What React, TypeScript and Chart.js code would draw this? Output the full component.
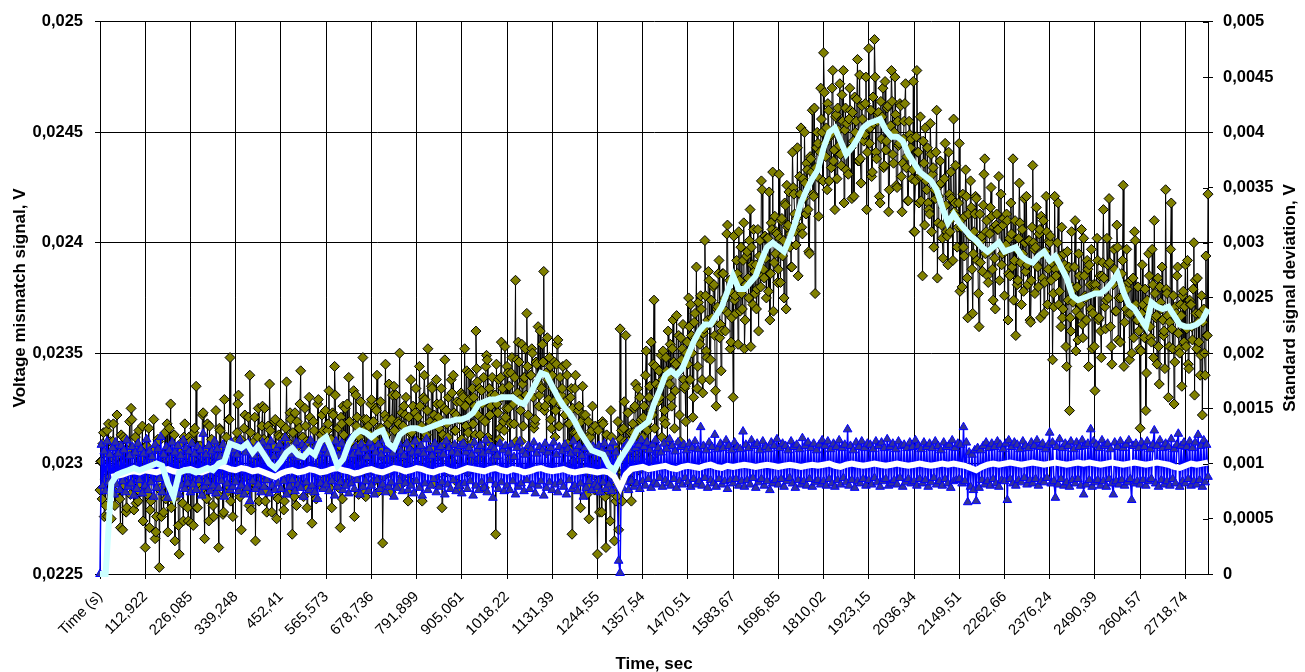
import React, { useEffect, useRef } from 'react';
import { Chart, registerables } from 'chart.js';

Chart.register(...registerables);

const FONT = "'Liberation Sans', Arial, Helvetica, sans-serif";

// x-axis category labels (one label every POINTS_PER_LABEL samples)
const timeTickLabels = [
  'Time (s)', '112,922', '226,085', '339,248', '452,41', '565,573', '678,736',
  '791,899', '905,061', '1018,22', '1131,39', '1244,55', '1357,54', '1470,51',
  '1583,67', '1696,85', '1810,02', '1923,15', '2036,34', '2149,51', '2262,66',
  '2376,24', '2490,39', '2604,57', '2718,74',
];
const POINTS_PER_LABEL = 64;

const leftTicks = [0.0225, 0.023, 0.0235, 0.024, 0.0245, 0.025];
const rightTicks = [0, 0.0005, 0.001, 0.0015, 0.002, 0.0025, 0.003, 0.0035, 0.004, 0.0045, 0.005];

const leftTitle = 'Voltage mismatch signal, V';
const rightTitle = 'Standard signal deviation, V';
const xTitle = 'Time, sec';

// All series values are in units of 10 µV (1e-5 V)
const UNIT = 1e-5;

// Voltage mismatch signal (left axis), one value per sample
const voltageMismatch = [
  2288,2301, 2301,2284, 2309,2314, 2276,2293, 2281,2305, 2315,2276, 2318,2298, 2294,2310,
  2275,2288, 2310,2318, 2302,2281, 2287,2303, 2322,2295, 2299,2308, 2284,2271, 2313,2300,
  2270,2312, 2292,2290, 2311,2278, 2280,2306, 2297,2297, 2319,2286, 2325,2320, 2290,2292,
  2279,2304, 2312,2282, 2306,2299, 2283,2315, 2291,2287, 2304,2302, 2317,2274, 2296,2307,
  2262,2308, 2308,2286, 2301,2316, 2271,2279, 2283,2301, 2294,2293, 2320,2306, 2266,2269,
  2276,2298, 2311,2310, 2253,2288, 2289,2276, 2298,2304, 2278,2295, 2314,2284, 2302,2318,
  2269,2290, 2316,2302, 2327,2280, 2284,2297, 2288,2313, 2265,2285, 2305,2300, 2299,2272,
  2259,2305, 2309,2299, 2296,2282, 2274,2312, 2318,2291, 2293,2303, 2280,2274, 2312,2296,
  2310,2273, 2289,2302, 2272,2314, 2316,2292, 2335,2280, 2280,2308, 2290,2299, 2308,2288,
  2303,2322, 2323,2294, 2266,2306, 2292,2284, 2318,2301, 2274,2317, 2295,2289, 2311,2304,
  2281,2276, 2300,2309, 2324,2303, 2286,2286, 2262,2316, 2315,2295, 2306,2307, 2277,2278,
  2329,2300, 2296,2312, 2287,2290, 2320,2320, 2348,2283, 2305,2305, 2276,2297, 2293,2310,
  2299,2293, 2314,2327, 2331,2299, 2285,2311, 2270,2289, 2307,2306, 2316,2322, 2296,2294,
  2288,2309, 2321,2281, 2340,2314, 2279,2308, 2302,2291, 2310,2321, 2265,2300, 2290,2312,
  2325,2283, 2304,2305, 2293,2317, 2326,2295, 2311,2325, 2283,2288, 2278,2310, 2317,2302,
  2336,2315, 2294,2278, 2297,2307, 2308,2319, 2320,2297, 2275,2285, 2284,2313, 2312,2304,
  2318,2296, 2296,2311, 2279,2283, 2312,2316, 2337,2310, 2287,2293, 2300,2323, 2320,2302,
  2268,2314, 2303,2285, 2323,2307, 2281,2319, 2292,2297, 2316,2327, 2342,2290, 2298,2312,
  2285,2304, 2325,2317, 2310,2280, 2289,2309, 2330,2321, 2307,2299, 2273,2287, 2319,2315,
  2305,2306, 2284,2295, 2327,2329, 2300,2301, 2290,2313, 2322,2291, 2315,2308, 2293,2324,
  2296,2306, 2315,2318, 2333,2289, 2298,2311, 2280,2323, 2322,2301, 2344,2331, 2306,2294,
  2304,2316, 2289,2308, 2271,2321, 2318,2284, 2326,2313, 2300,2325, 2291,2303, 2327,2291,
  2339,2319, 2294,2310, 2310,2299, 2312,2333, 2276,2305, 2331,2317, 2321,2295, 2286,2312,
  2300,2328, 2309,2300, 2348,2315, 2320,2287, 2285,2320, 2303,2314, 2317,2297, 2296,2327,
  2329,2297, 2311,2319, 2292,2311, 2325,2324, 2340,2287, 2298,2316, 2305,2328, 2316,2306,
  2264,2294, 2302,2322, 2345,2313, 2320,2302, 2318,2336, 2296,2308, 2287,2320, 2331,2298,
  2335,2315, 2308,2331, 2300,2303, 2319,2318, 2350,2290, 2303,2323, 2294,2317, 2326,2300,
  2322,2330, 2299,2309, 2283,2321, 2314,2292, 2338,2314, 2306,2326, 2309,2304, 2323,2334,
  2300,2310, 2321,2298, 2344,2326, 2305,2317, 2283,2306, 2330,2340, 2329,2312, 2313,2324,
  2352,2302, 2299,2319, 2307,2335, 2334,2307, 2291,2322, 2318,2294, 2338,2327, 2303,2321,
  2316,2304, 2327,2334, 2280,2313, 2309,2325, 2347,2296, 2324,2318, 2312,2330, 2301,2308,
  2296,2338, 2332,2301, 2340,2323, 2315,2315, 2322,2328, 2306,2291, 2289,2320, 2328,2332,
  2311,2331, 2330,2309, 2352,2326, 2317,2342, 2296,2314, 2341,2329, 2340,2301, 2309,2334,
  2318,2330, 2326,2313, 2360,2343, 2337,2322, 2302,2334, 2313,2305, 2333,2327, 2320,2339,
  2289,2319, 2344,2349, 2347,2312, 2310,2334, 2322,2326, 2331,2339, 2306,2302, 2298,2331,
  2268,2345, 2327,2323, 2338,2311, 2316,2339, 2355,2330, 2334,2319, 2315,2353, 2321,2325,
  2344,2341, 2325,2335, 2302,2318, 2341,2348, 2330,2327, 2318,2339, 2383,2310, 2347,2332,
  2355,2346, 2329,2324, 2310,2354, 2336,2317, 2339,2339, 2352,2331, 2368,2344, 2322,2307,
  2297,2340, 2340,2352, 2350,2330, 2316,2318, 2320,2346, 2345,2337, 2362,2326, 2331,2360,
  2335,2334, 2354,2346, 2387,2324, 2326,2341, 2305,2357, 2338,2329, 2348,2344, 2320,2316,
  2340,2334, 2328,2346, 2312,2324, 2345,2354, 2356,2317, 2317,2339, 2327,2331, 2334,2344,
  2298,2299, 2322,2328, 2345,2340, 2309,2318, 2318,2306, 2330,2334, 2268,2325, 2301,2314,
  2334,2340, 2314,2312, 2305,2324, 2326,2302, 2280,2319, 2298,2335, 2322,2307, 2307,2322,
  2296,2286, 2290,2319, 2275,2313, 2312,2296, 2315,2326, 2295,2305, 2288,2317, 2303,2288,
  2259,2315, 2292,2278, 2300,2307, 2278,2319, 2318,2297, 2305,2285, 2262,2313, 2288,2304,
  2290,2290, 2274,2324, 2312,2296, 2296,2308, 2265,2286, 2283,2303, 2285,2319, 2270,2291,
  2361,2311, 2315,2283, 2296,2316, 2328,2310, 2358,2293, 2305,2323, 2310,2302, 2292,2314,
  2283,2292, 2318,2314, 2325,2326, 2336,2304, 2302,2334, 2312,2297, 2330,2319, 2320,2311,
  2312,2321, 2326,2307, 2340,2351, 2318,2315, 2298,2330, 2335,2302, 2355,2324, 2322,2345,
  2374,2316, 2344,2336, 2305,2299, 2328,2342, 2330,2335, 2349,2312, 2338,2351, 2320,2324,
  2318,2348, 2342,2310, 2360,2339, 2336,2354, 2330,2326, 2352,2365, 2346,2316, 2333,2345,
  2367,2341, 2341,2358, 2322,2310, 2357,2347, 2352,2363, 2338,2334, 2335,2319, 2350,2355,
  2345,2375, 2362,2338, 2372,2358, 2350,2321, 2330,2364, 2368,2357, 2389,2334, 2344,2373,
  2356,2354, 2376,2370, 2338,2332, 2359,2361, 2401,2376, 2351,2348, 2365,2387, 2383,2338,
  2347,2374, 2366,2364, 2380,2381, 2358,2333, 2326,2370, 2371,2386, 2392,2357, 2363,2342,
  2360,2386, 2386,2374, 2375,2360, 2369,2404, 2408,2368, 2378,2383, 2352,2355, 2366,2377,
  2330,2403, 2374,2376, 2368,2392, 2386,2354, 2405,2383, 2369,2398, 2377,2370, 2392,2409,
  2352,2365, 2381,2394, 2396,2384, 2375,2401, 2415,2353, 2398,2390, 2372,2406, 2387,2377,
  2390,2370, 2379,2406, 2360,2394, 2401,2380, 2428,2424, 2385,2388, 2384,2403, 2393,2375,
  2402,2402, 2378,2423, 2365,2386, 2409,2406, 2432,2369, 2391,2412, 2395,2405, 2404,2382,
  2388,2431, 2402,2382, 2410,2411, 2394,2401, 2375,2418, 2417,2370, 2426,2407, 2408,2423,
  2398,2404, 2389,2389, 2441,2425, 2422,2413, 2405,2399, 2411,2443, 2385,2407, 2430,2422,
  2452,2407, 2404,2429, 2420,2450, 2427,2413, 2436,2433, 2415,2396, 2395,2439, 2438,2432,
  2460,2422, 2421,2461, 2377,2434, 2443,2450, 2445,2412, 2429,2441, 2470,2456, 2450,2428,
  2486,2468, 2445,2439, 2452,2424, 2463,2460, 2428,2448, 2449,2434, 2470,2478, 2437,2442,
  2415,2457, 2458,2429, 2461,2451, 2444,2472, 2440,2435, 2467,2455, 2478,2418, 2451,2461,
  2433,2454, 2442,2431, 2456,2470, 2460,2443, 2420,2459, 2446,2421, 2466,2450, 2455,2465,
  2483,2437, 2437,2476, 2438,2427, 2462,2456, 2450,2446, 2449,2463, 2475,2415, 2441,2452,
  2488,2445, 2452,2460, 2430,2432, 2466,2454, 2492,2475, 2441,2438, 2455,2458, 2459,2421,
  2418,2464, 2447,2457, 2470,2434, 2435,2473, 2442,2446, 2461,2462, 2414,2424, 2452,2453,
  2478,2464, 2440,2436, 2450,2475, 2458,2426, 2425,2455, 2444,2445, 2463,2462, 2430,2414,
  2436,2447, 2455,2463, 2472,2434, 2439,2419, 2419,2455, 2449,2443, 2447,2429, 2433,2473,
  2405,2405, 2428,2448, 2478,2441, 2441,2418, 2430,2457, 2419,2430, 2385,2446, 2436,2408,
  2452,2428, 2424,2443, 2418,2415, 2413,2454, 2440,2405, 2431,2434, 2398,2424, 2420,2441,
  2460,2384, 2409,2421, 2426,2437, 2427,2408, 2402,2393, 2416,2429, 2445,2417, 2405,2403,
  2390,2441, 2422,2405, 2432,2420, 2411,2392, 2456,2414, 2418,2435, 2412,2398, 2407,2418,
  2445,2378, 2410,2407, 2380,2422, 2398,2394, 2412,2433, 2421,2384, 2366,2413, 2404,2403,
  2428,2416, 2388,2368, 2395,2405, 2413,2421, 2420,2392, 2400,2377, 2362,2413, 2391,2401,
  2403,2387, 2417,2431, 2438,2395, 2405,2410, 2385,2382, 2396,2404, 2416,2425, 2412,2388,
  2374,2407, 2393,2370, 2408,2413, 2406,2406, 2430,2383, 2399,2422, 2390,2395, 2408,2411,
  2376,2396, 2399,2413, 2410,2365, 2386,2402, 2385,2418, 2404,2389, 2438,2374, 2392,2410,
  2358,2397, 2381,2383, 2402,2427, 2409,2391, 2372,2406, 2395,2378, 2420,2400, 2387,2421,
  2390,2381, 2401,2401, 2365,2364, 2383,2407, 2435,2400, 2397,2377, 2398,2416, 2390,2389,
  2380,2404, 2406,2366, 2412,2395, 2384,2410, 2368,2382, 2396,2421, 2405,2372, 2388,2401,
  2400,2403, 2383,2391, 2347,2377, 2371,2421, 2388,2385, 2392,2400, 2418,2372, 2378,2394,
  2362,2407, 2366,2370, 2395,2390, 2387,2353, 2344,2396, 2374,2389, 2324,2366, 2360,2405,
  2380,2373, 2379,2389, 2410,2351, 2369,2380, 2356,2395, 2385,2367, 2372,2406, 2363,2357,
  2402,2385, 2376,2375, 2365,2392, 2388,2344, 2390,2381, 2370,2397, 2352,2368, 2381,2353,
  2333,2381, 2378,2402, 2392,2365, 2366,2385, 2360,2348, 2385,2391, 2415,2384, 2371,2361,
  2374,2402, 2390,2375, 2420,2391, 2362,2353, 2345,2382, 2381,2397, 2388,2369, 2369,2408,
  2398,2356, 2375,2385, 2355,2375, 2386,2392, 2426,2344, 2364,2381, 2370,2397, 2379,2368,
  2382,2347, 2368,2383, 2350,2371, 2384,2357, 2405,2401, 2372,2365, 2365,2380, 2360,2352,
  2316,2351, 2368,2390, 2372,2363, 2357,2379, 2324,2341, 2374,2370, 2395,2385, 2362,2357,
  2355,2397, 2381,2348, 2410,2377, 2366,2367, 2345,2384, 2353,2336, 2380,2373, 2370,2389,
  2365,2358, 2360,2343, 2424,2379, 2377,2367, 2330,2353, 2364,2397, 2418,2361, 2352,2376,
  2327,2346, 2371,2368, 2385,2389, 2359,2352, 2350,2372, 2367,2335, 2376,2378, 2355,2371,
  2390,2353, 2361,2392, 2345,2343, 2374,2372, 2372,2362, 2356,2379, 2400,2331, 2383,2368,
  2352,2384, 2364,2355, 2368,2340, 2349,2376, 2322,2364, 2370,2350, 2340,2394, 2358,2358,
  2422,
];

// Standard signal deviation (right axis), one value every STD_STEP samples
const STD_STEP = 2;
const signalStdDev = [
  0, 117, 80, 111, 75, 120, 83, 108, 78, 114, 72, 119, 81, 109, 76, 116, 84, 112, 74, 121, 79, 107, 82, 115, 71, 110, 77, 118, 85, 113, 73, 109,
  80, 122, 76, 111, 83, 106, 70, 117, 78, 113, 86, 124, 74, 108, 81, 115, 69, 112, 79, 119, 75, 110, 84, 116, 72, 107, 80, 121, 77, 114, 82, 111,
  74, 118, 81, 109, 76, 115, 85, 112, 71, 127, 79, 108, 83, 116, 75, 111, 80, 120, 73, 113, 78, 106, 84, 117, 70, 110, 82, 114, 76, 119, 79, 112,
  83, 108, 75, 121, 80, 114, 72, 110, 78, 118, 66, 112, 84, 107, 77, 116, 81, 111, 74, 119, 79, 109, 85, 115, 73, 120, 80, 106, 76, 113, 82, 117,
  77, 110, 84, 123, 72, 115, 79, 108, 85, 112, 75, 119, 81, 105, 78, 117, 70, 114, 83, 109, 76, 121, 80, 111, 74, 116, 68, 110, 82, 118, 77, 113,
  81, 109, 75, 116, 84, 112, 71, 120, 79, 107, 83, 118, 76, 111, 80, 114, 73, 122, 82, 108, 77, 115, 85, 110, 72, 117, 79, 113, 84, 106, 75, 119,
  80, 114, 72, 110, 85, 117, 77, 108, 81, 121, 74, 112, 79, 116, 83, 109, 70, 115, 78, 119, 84, 111, 75, 107, 82, 118, 76, 113, 80, 110, 73, 120,
  84, 111, 78, 116, 71, 109, 82, 122, 76, 113, 80, 107, 86, 118, 74, 112, 79, 115, 83, 108, 72, 120, 81, 114, 77, 110, 85, 117, 75, 109, 80, 116,
  73, 118, 82, 110, 77, 114, 84, 108, 71, 119, 80, 112, 76, 116, 83, 109, 78, 121, 74, 111, 85, 115, 69, 113, 81, 107, 77, 118, 83, 112, 75, 116,
  80, 110, 76, 117, 84, 106, 72, 114, 79, 120, 82, 111, 75, 108, 85, 116, 77, 113, 81, 119, 73, 109, 80, 115, 84, 112, 71, 118, 78, 110, 83, 114,
  76, 119, 81, 108, 74, 115, 83, 111, 79, 117, 72, 113, 85, 109, 77, 120, 80, 112, 75, 116, 82, 107, 70, 114, 78, 118, 84, 110, 76, 115, 81, 111,
  79, 116, 74, 112, 83, 118, 77, 109, 81, 114, 75, 119, 85, 110, 80, 12, 1, 104, 78, 115, 83, 118, 76, 112, 84, 120, 79, 114, 82, 117, 77, 121,
  84, 115, 80, 119, 86, 112, 78, 117, 83, 121, 81, 114, 87, 110, 79, 118, 85, 113, 82, 122, 80, 116, 86, 111, 78, 119, 84, 115, 81, 117, 87, 112,
  83, 118, 79, 114, 86, 120, 81, 113, 84, 133, 80, 116, 87, 112, 78, 119, 85, 115, 82, 126, 79, 113, 86, 118, 81, 114, 84, 121, 77, 116, 85, 112,
  82, 119, 86, 115, 80, 113, 84, 129, 79, 117, 85, 114, 81, 121, 87, 116, 78, 118, 83, 112, 86, 120, 80, 115, 84, 113, 76, 119, 82, 116, 85, 122,
  81, 114, 86, 118, 79, 116, 84, 112, 87, 120, 82, 115, 78, 117, 85, 113, 81, 123, 84, 116, 80, 119, 86, 114, 79, 118, 83, 112, 85, 117, 81, 121,
  84, 116, 80, 120, 86, 113, 82, 118, 79, 115, 85, 121, 81, 114, 87, 117, 83, 131, 80, 116, 85, 112, 78, 119, 84, 115, 82, 120, 86, 114, 80, 118,
  85, 117, 81, 113, 87, 120, 83, 116, 79, 119, 84, 114, 86, 122, 80, 115, 82, 118, 85, 113, 81, 120, 87, 116, 79, 117, 83, 114, 86, 119, 82, 115,
  84, 121, 80, 116, 86, 113, 82, 119, 85, 115, 79, 118, 83, 114, 87, 120, 81, 116, 84, 112, 80, 119, 86, 115, 82, 117, 78, 121, 84, 114, 85, 118,
  86, 117, 82, 133, 84, 119, 65, 110, 79, 108, 76, 112, 66, 114, 78, 112, 85, 116, 81, 119, 84, 114, 80, 118, 86, 115, 82, 120, 79, 117, 85, 113,
  84, 118, 67, 121, 86, 115, 82, 119, 80, 117, 85, 113, 83, 120, 87, 116, 81, 114, 85, 119, 82, 116, 86, 121, 80, 115, 84, 118, 83, 113, 87, 117,
  128, 82, 119, 84, 69, 115, 81, 122, 86, 114, 80, 118, 83, 116, 79, 120, 85, 113, 82, 119, 86, 115, 80, 121, 72, 116, 81, 118, 85, 131, 79, 120,
  83, 117, 85, 114, 80, 121, 84, 116, 79, 118, 86, 113, 82, 72, 119, 84, 115, 81, 120, 85, 114, 80, 117, 83, 121, 86, 67, 116, 82, 118, 84, 114,
  81, 119, 85, 115, 80, 120, 84, 113, 86, 117, 130, 82, 116, 79, 121, 85, 114, 81, 118, 84, 115, 80, 122, 86, 113, 82, 117, 127, 79, 116, 84, 119,
  82, 115, 86, 120, 80, 114, 84, 119, 81, 126, 85, 116, 79, 121, 83, 117, 88,
];

// Moving averages, one value every MA_STEP samples
const MA_STEP = 8;

const voltageMovingAvg = [
  2250, 2250, 2291, 2295, 2296, 2297, 2298, 2297, 2298, 2299, 2300, 2299, 2291, 2285, 2296, 2297,
  2297, 2296, 2297, 2298, 2297, 2300, 2301, 2309, 2308, 2307, 2309, 2305, 2308, 2304, 2300, 2298,
  2301, 2305, 2307, 2304, 2303, 2306, 2304, 2310, 2312, 2306, 2299, 2302, 2309, 2313, 2315, 2314,
  2312, 2314, 2315, 2309, 2307, 2313, 2315, 2316, 2316, 2315, 2316, 2317, 2318, 2319, 2319, 2320,
  2320, 2321, 2323, 2327, 2328, 2329, 2329, 2330, 2330, 2330, 2328, 2327, 2331, 2336, 2341, 2340,
  2335, 2330, 2326, 2323, 2319, 2314, 2310, 2306, 2305, 2304, 2299, 2297, 2302, 2306, 2310, 2315,
  2317, 2319, 2327, 2333, 2340, 2342, 2340, 2343, 2349, 2355, 2360, 2363, 2363, 2367, 2371, 2378,
  2385, 2379, 2379, 2382, 2385, 2392, 2398, 2400, 2398, 2396, 2402, 2409, 2418, 2424, 2429, 2433,
  2443, 2450, 2452, 2446, 2440, 2443, 2447, 2452, 2454, 2455, 2456, 2451, 2448, 2448, 2446, 2440,
  2436, 2432, 2430, 2428, 2424, 2416, 2409, 2413, 2409, 2406, 2403, 2401, 2398, 2396, 2398, 2400,
  2396, 2397, 2398, 2394, 2392, 2391, 2394, 2396, 2392, 2394, 2389, 2384, 2376, 2374, 2375, 2376,
  2377, 2377, 2379, 2382, 2386, 2378, 2372, 2370, 2366, 2362, 2373, 2371, 2370, 2371, 2367, 2363,
  2362, 2362, 2363, 2365, 2370,
];

const stdDevMovingAvg = [
  null, null, 88, 89, 90, 92, 93, 92, 94, 93, 92, 94, 95, 93, 92, 94,
  95, 93, 92, 94, 96, 98, 97, 95, 94, 96, 95, 93, 94, 92, 90, 88,
  91, 93, 94, 92, 93, 95, 94, 92, 93, 95, 96, 94, 93, 91, 92, 94,
  95, 93, 92, 94, 96, 95, 93, 94, 96, 95, 93, 92, 94, 95, 93, 92,
  94, 96, 95, 94, 93, 95, 96, 94, 93, 95, 94, 92, 93, 95, 96, 94,
  93, 94, 95, 93, 92, 93, 94, 93, 92, 93, 92, 88, 78, 90, 95, 96,
  97, 95, 96, 97, 98, 96, 95, 97, 98, 97, 96, 98, 99, 97, 96, 98,
  97, 98, 99, 98, 97, 98, 99, 98, 97, 98, 99, 98, 97, 98, 99, 98,
  99, 100, 98, 97, 99, 100, 99, 98, 99, 100, 99, 98, 99, 100, 99, 98,
  99, 100, 99, 98, 99, 100, 99, 100, 99, 98, 96, 94, 97, 99, 100, 99,
  100, 101, 100, 99, 100, 101, 100, 99, 100, 101, 100, 99, 100, 101, 100, 101,
  100, 99, 100, 101, 100, 99, 100, 101, 100, 99, 100, 101, 100, 99, 97, 96,
  98, 100, 99, 100, 101,
];

const fmt = (v: number) => String(parseFloat(v.toFixed(5))).replace('.', ',');

const categories = voltageMismatch.map((_, i) => String(i));
const toVolts = (arr: number[]) => arr.map((v) => v * UNIT);
const toStepped = (arr: (number | null)[], step: number) =>
  arr.map((v, k) => ({ x: String(k * step), y: v === null ? null : v * UNIT }));

const W = 1305;
const H = 672;
const PLOT_LEFT = 100;
const PLOT_RIGHT = 1208;
const PLOT_TOP = 18;
const PLOT_BOTTOM = 574;

const extrasPlugin = {
  id: 'extras',
  afterDraw(chart: any) {
    const { ctx, chartArea, scales } = chart;
    const y1 = scales.y1;
    ctx.save();
    ctx.strokeStyle = '#000';
    ctx.lineWidth = 1;
    y1.ticks.forEach((t: any) => {
      const py = Math.round(y1.getPixelForValue(t.value)) + 0.5;
      ctx.beginPath();
      ctx.moveTo(chartArea.right - 5, py);
      ctx.lineTo(chartArea.right, py);
      ctx.stroke();
    });
    ctx.translate(1290, (chartArea.top + chartArea.bottom) / 2);
    ctx.rotate(-Math.PI / 2);
    ctx.font = `bold 17px ${FONT}`;
    ctx.fillStyle = '#000';
    ctx.textAlign = 'center';
    ctx.textBaseline = 'middle';
    ctx.fillText(rightTitle, 0, 0);
    ctx.restore();
  },
};

export default function App() {
  const canvasRef = useRef<HTMLCanvasElement | null>(null);

  useEffect(() => {
    if (!canvasRef.current) return;
    const chart = new Chart(canvasRef.current, {
      type: 'line',
      data: {
        labels: categories,
        datasets: [
          {
            label: 'Voltage moving average',
            data: toStepped(voltageMovingAvg, MA_STEP) as any,
            yAxisID: 'y',
            borderColor: '#CCFFFF',
            borderWidth: 6,
            pointRadius: 0,
            tension: 0,
            order: 0,
            clip: false as any,
          },
          {
            label: 'Std deviation moving average',
            data: toStepped(stdDevMovingAvg, MA_STEP) as any,
            yAxisID: 'y1',
            borderColor: '#FFFFFF',
            borderWidth: 6,
            pointRadius: 0,
            tension: 0,
            order: 1,
            clip: false as any,
          },
          {
            label: 'Standard signal deviation',
            data: toStepped(signalStdDev, STD_STEP) as any,
            yAxisID: 'y1',
            borderColor: '#0000FF',
            borderWidth: 1.5,
            pointStyle: 'triangle',
            pointRadius: 5,
            pointBackgroundColor: '#333399',
            pointBorderColor: '#0000FF',
            pointBorderWidth: 1,
            tension: 0,
            order: 2,
            clip: false as any,
          },
          {
            label: 'Voltage mismatch signal',
            data: toVolts(voltageMismatch),
            yAxisID: 'y',
            borderColor: '#000000',
            borderWidth: 1,
            pointStyle: 'rectRot',
            pointRadius: 5,
            pointBackgroundColor: '#808000',
            pointBorderColor: '#000000',
            pointBorderWidth: 1,
            tension: 0,
            order: 3,
            clip: false as any,
          },
        ],
      },
      options: {
        animation: false,
        responsive: true,
        maintainAspectRatio: false,
        devicePixelRatio: 1,
        events: [],
        layout: { padding: { top: PLOT_TOP, left: 0, right: 0, bottom: 0 } },
        plugins: {
          legend: { display: false },
          tooltip: { enabled: false },
          title: { display: false },
        },
        scales: {
          x: {
            type: 'category',
            offset: false,
            afterBuildTicks: (scale: any) => {
              scale.ticks = scale.ticks.filter((t: any) => t.value % POINTS_PER_LABEL === 0);
            },
            afterFit: (scale: any) => {
              scale.height = H - PLOT_BOTTOM;
            },
            grid: { color: '#000', lineWidth: 1, tickLength: 5, drawTicks: true },
            border: { color: '#000', width: 1 },
            ticks: {
              autoSkip: false,
              minRotation: 45,
              maxRotation: 45,
              padding: 9,
              color: '#000',
              font: { family: FONT, size: 15 },
              callback: (value: any) => {
                const v = Number(value);
                return v % POINTS_PER_LABEL === 0 ? timeTickLabels[v / POINTS_PER_LABEL] ?? '' : '';
              },
            },
            title: {
              display: true,
              text: xTitle,
              color: '#000',
              font: { family: FONT, size: 17, weight: 'bold', lineHeight: 1 },
              padding: { top: 0, bottom: -1 },
            },
          },
          y: {
            type: 'linear',
            position: 'left',
            min: 0.0225,
            max: 0.025,
            afterBuildTicks: (scale: any) => {
              scale.ticks = leftTicks.map((v) => ({ value: v }));
            },
            afterFit: (scale: any) => {
              scale.width = PLOT_LEFT;
            },
            grid: { color: '#000', lineWidth: 1, tickLength: 5 },
            border: { color: '#000', width: 1 },
            ticks: {
              color: '#000',
              padding: 12,
              font: { family: FONT, size: 16.5, weight: 'bold' },
              callback: (value: any) => fmt(Number(value)),
            },
            title: {
              display: true,
              text: leftTitle,
              color: '#000',
              font: { family: FONT, size: 17, weight: 'bold', lineHeight: 1 },
              padding: { top: 11.5, bottom: 0 },
            },
          },
          y1: {
            type: 'linear',
            position: 'right',
            min: 0,
            max: 0.005,
            afterBuildTicks: (scale: any) => {
              scale.ticks = rightTicks.map((v) => ({ value: v }));
            },
            afterFit: (scale: any) => {
              scale.width = W - PLOT_RIGHT;
            },
            grid: { drawOnChartArea: false, color: '#000', lineWidth: 1, tickLength: 5 },
            border: { color: '#000', width: 1 },
            ticks: {
              color: '#000',
              padding: 10,
              font: { family: FONT, size: 16.5, weight: 'bold' },
              callback: (value: any) => fmt(Number(value)),
            },
          },
        },
      } as any,
      plugins: [extrasPlugin],
    });
    return () => chart.destroy();
  }, []);

  return (
    <div style={{ position: 'absolute', left: 0, top: 0, width: W, height: H, background: '#fff' }}>
      <canvas ref={canvasRef} />
    </div>
  );
}
